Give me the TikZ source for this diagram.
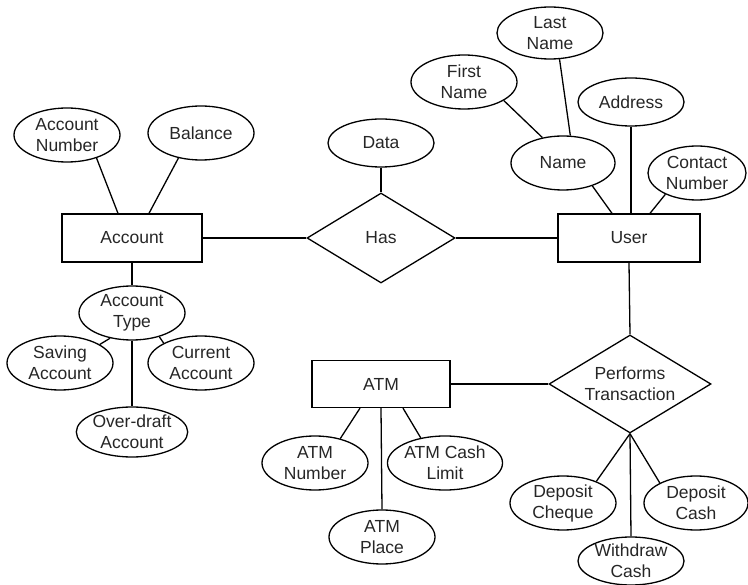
\documentclass[tikz,border=0pt]{standalone}
\usepackage{fontspec}
\setmainfont{Liberation Sans}
\usetikzlibrary{shapes.geometric}
\begin{document}
\begin{tikzpicture}[x=1pt,y=-1pt,line width=1.3pt,
  every node/.style={font=\fontsize{17.5}{21}\selectfont, align=center, inner sep=0pt, text=black!85},
  attr/.style={draw=black, ellipse, minimum width=106pt, minimum height=54pt},
  ent/.style={draw=black, rectangle, minimum width=140pt, minimum height=48pt},
  rel/.style={draw=black, diamond, shape aspect=1.65}]
\useasboundingbox (0,0) rectangle (748,585);
% entities
\node[ent] (acc) at (132,238) {Account};
\node[ent, minimum width=142pt] (user) at (629,238) {User};
\node[ent, minimum width=138pt, minimum height=47pt] (atm) at (381,384) {ATM};
% relationships
\node[rel, minimum width=148pt, minimum height=90pt] (has) at (381,238) {Has};
\node[rel, minimum width=162pt, minimum height=98pt] (perf) at (630,384) {Performs\\Transaction};
% attributes
\node[attr] (accnum) at (67,135) {Account\\Number};
\node[attr] (bal) at (201,133) {Balance};
\node[attr, minimum height=48pt] (data) at (381,143) {Data};
\node[attr] (fname) at (464,82) {First\\Name};
\node[attr, minimum height=52pt] (lname) at (550,33) {Last\\Name};
\node[attr, minimum width=104pt] (name) at (563,163) {Name};
\node[attr, minimum height=48pt] (addr) at (631,102) {Address};
\node[attr, minimum width=98pt] (contact) at (697,173) {Contact\\Number};
\node[attr] (acctype) at (132,313) {Account\\Type};
\node[attr] (saving) at (60,363) {Saving\\Account};
\node[attr] (current) at (201,363) {Current\\Account};
\node[attr, minimum width=104pt, minimum height=50pt] (over) at (132,432) {Over-draft\\Account};
\node[attr] (atmnum) at (315,463) {ATM\\Number};
\node[attr] (atmcash) at (445,463) {ATM Cash\\Limit};
\node[attr] (atmplace) at (382,537) {ATM\\Place};
\node[attr] (depch) at (563,503) {Deposit\\Cheque};
\node[attr, minimum width=104pt] (depcash) at (696,503) {Deposit\\Cash};
\node[attr, minimum height=48pt] (withdraw) at (631,561) {Withdraw\\Cash};
% connectors
\draw (acc) -- (has);
\draw (has) -- (user);
\draw (atm) -- (perf);
\draw (user.south) -- (perf.north);
\draw (data.south) -- (has.north);
\draw (accnum.-38) -- ([xshift=-14pt]acc.north);
\draw (bal.228) -- ([xshift=17pt]acc.north);
\draw (acc.south) -- (acctype.north);
\draw (acctype.south) -- (over.north);
\draw (saving.25) -- (acctype.229);
\draw (current.152) -- (acctype.-41.5);
\draw (fname.-25) -- (name.129);
\draw (lname.-70) -- (name.75);
\draw (name.-38) -- ([xshift=-17pt]user.north);
\draw (addr.south) -- (addr.south |- user.north);
\draw (contact.214) -- ([xshift=21pt]user.north);
\draw (atmnum.44) -- ([xshift=-21pt]atm.south);
\draw (atmcash.134) -- ([xshift=22pt]atm.south);
\draw (atm.south) -- (atmplace.north);
\draw (perf.south) -- (depch.33);
\draw (perf.south) -- (withdraw.north);
\draw (perf.south) -- (depcash.151);
\end{tikzpicture}
\end{document}
